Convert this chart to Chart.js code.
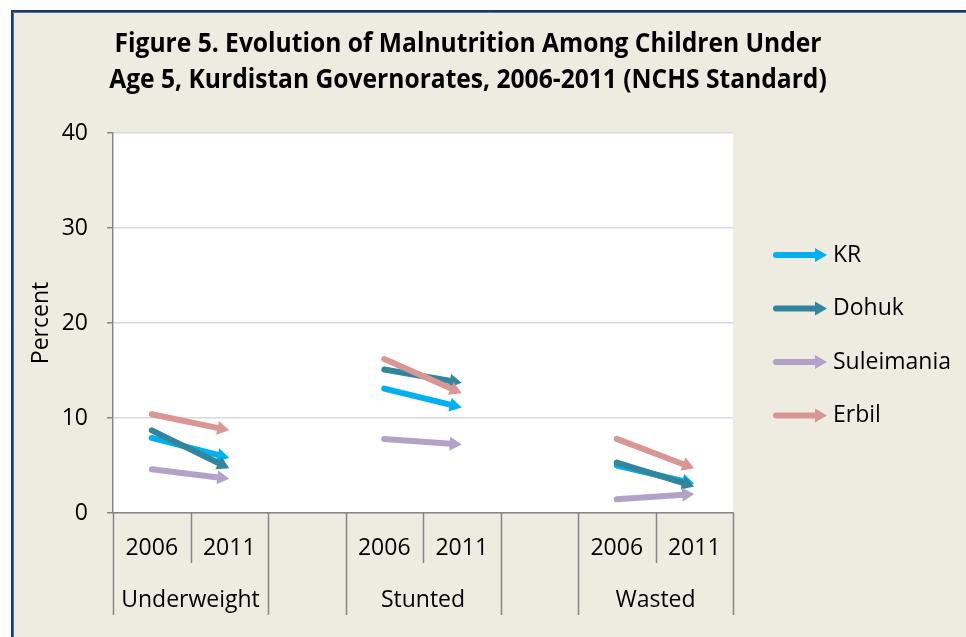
<!DOCTYPE html>
<html>
<head>
<meta charset="utf-8">
<script src="https://cdn.jsdelivr.net/npm/chart.js@4.4.0/dist/chart.umd.min.js"></script>
<style>
  html, body { margin: 0; padding: 0; background: #fff; }
  canvas { display: block; }
</style>
</head>
<body>
<canvas id="chart" width="966" height="637"></canvas>
<script>
// --- data ---
const titleLines = [
  'Figure 5. Evolution of Malnutrition Among Children Under',
  'Age 5, Kurdistan Governorates, 2006-2011 (NCHS Standard)',
];
const yearLabels = ['2006', '2011', '', '2006', '2011', '', '2006', '2011'];
const groupNames = ['Underweight', 'Stunted', 'Wasted'];
const groupStarts = [0, 3, 6];
const seriesNames = ['KR', 'Dohuk', 'Suleimania', 'Erbil'];
const seriesColors = ['#00B0F0', '#31859C', '#B3A2C7', '#D99694'];
const krValues = [7.9, 5.8, null, 13.1, 11.1, null, 5.0, 3.1];
const dohukValues = [8.7, 4.7, null, 15.1, 13.7, null, 5.3, 2.8];
const suleimaniaValues = [4.6, 3.6, null, 7.8, 7.2, null, 1.45, 2.0];
const erbilValues = [10.4, 8.7, null, 16.2, 12.6, null, 7.8, 4.7];
const yMin = 0, yMax = 40, yStep = 10;

const FONT = '"Open Sans", "Noto Sans", sans-serif';
const BEIGE = '#EEECE1';
const AXIS_GRAY = '#868686';

/** Draw a thick line ending in a filled triangular head at (x1, y1). */
function drawArrow(ctx, x0, y0, x1, y1, color) {
  const width = 6, headLen = 12, headHalf = 7;
  const len = Math.hypot(x1 - x0, y1 - y0);
  const ux = (x1 - x0) / len, uy = (y1 - y0) / len;
  const bx = x1 - ux * headLen, by = y1 - uy * headLen;
  ctx.save();
  ctx.strokeStyle = color;
  ctx.fillStyle = color;
  ctx.lineWidth = width;
  ctx.lineCap = 'round';
  ctx.beginPath();
  ctx.moveTo(x0, y0);
  ctx.lineTo(bx + ux, by + uy);
  ctx.stroke();
  ctx.beginPath();
  ctx.moveTo(x1, y1);
  ctx.lineTo(bx - uy * headHalf, by + ux * headHalf);
  ctx.lineTo(bx + uy * headHalf, by - ux * headHalf);
  ctx.closePath();
  ctx.fill();
  ctx.restore();
}

const backgroundPlugin = {
  id: 'background',
  beforeDraw(chart) {
    const { ctx, width, height, chartArea } = chart;
    ctx.save();
    ctx.fillStyle = '#fff';
    ctx.fillRect(0, 0, width, height);
    ctx.fillStyle = BEIGE;
    ctx.fillRect(11, 10, width - 11, height - 10);
    // frame (only top and left edges are visible in the picture)
    ctx.strokeStyle = '#1F3864';
    ctx.lineWidth = 2;
    ctx.beginPath();
    ctx.moveTo(width, 11);
    ctx.lineTo(12, 11);
    ctx.lineTo(12, height);
    ctx.stroke();
    ctx.strokeStyle = '#4F6FA8';
    ctx.lineWidth = 1;
    ctx.beginPath();
    ctx.moveTo(width, 12.5);
    ctx.lineTo(13.5, 12.5);
    ctx.lineTo(13.5, height);
    ctx.stroke();
    ctx.fillStyle = '#fff';
    ctx.fillRect(chartArea.left, chartArea.top, chartArea.width, chartArea.height);
    ctx.restore();
  },
};

const arrowPlugin = {
  id: 'arrows',
  afterDatasetsDraw(chart) {
    chart.data.datasets.forEach((ds, i) => {
      const pts = chart.getDatasetMeta(i).data;
      for (let j = 0; j < ds.data.length - 1; j++) {
        if (ds.data[j] == null || ds.data[j + 1] == null) continue;
        drawArrow(chart.ctx, pts[j].x, pts[j].y, pts[j + 1].x, pts[j + 1].y, ds.borderColor);
      }
    });
  },
};

const decorPlugin = {
  id: 'decor',
  afterDraw(chart) {
    const { ctx, chartArea } = chart;
    const x = chart.scales.x;
    const n = yearLabels.length;
    const edge = i => (i === 0 ? chartArea.left : i === n ? chartArea.right
      : (x.getPixelForValue(i - 1) + x.getPixelForValue(i)) / 2);

    // category dividers: short inside a group, long between groups
    ctx.save();
    ctx.strokeStyle = AXIS_GRAY;
    ctx.lineWidth = 1.5;
    for (let i = 0; i <= n; i++) {
      const inside = groupStarts.includes(i - 1);
      const px = Math.round(edge(i)) + 0.5;
      ctx.beginPath();
      ctx.moveTo(px, chartArea.bottom);
      ctx.lineTo(px, inside ? 563 : 615);
      ctx.stroke();
    }

    // group labels
    ctx.fillStyle = '#000';
    ctx.font = '23px ' + FONT;
    ctx.textAlign = 'center';
    ctx.textBaseline = 'middle';
    groupNames.forEach((name, g) => {
      const s = groupStarts[g];
      const cx = (x.getPixelForValue(s) + x.getPixelForValue(s + 1)) / 2;
      ctx.fillText(name, cx, 600);
    });

    // title (condensed to mimic the original narrow face)
    ctx.font = 'bold 26px ' + FONT;
    const sx = 707 / ctx.measureText(titleLines[0]).width;
    titleLines.forEach((line, i) => {
      ctx.save();
      ctx.translate(468, 52 + i * 36);
      ctx.scale(sx, 1);
      ctx.textBaseline = 'alphabetic';
      ctx.fillText(line, 0, 0);
      ctx.restore();
    });

    // legend
    ctx.font = '23px ' + FONT;
    ctx.textAlign = 'left';
    seriesNames.forEach((name, i) => {
      const cy = 255 + i * 53.5;
      drawArrow(ctx, 776, cy, 827, cy, seriesColors[i]);
      ctx.fillStyle = '#000';
      ctx.fillText(name, 833, cy);
    });
    ctx.restore();
  },
};

const valueSets = [krValues, dohukValues, suleimaniaValues, erbilValues];

new Chart(document.getElementById('chart'), {
  type: 'line',
  data: {
    labels: yearLabels,
    datasets: seriesNames.map((name, i) => ({
      label: name,
      data: valueSets[i],
      borderColor: seriesColors[i],
      backgroundColor: seriesColors[i],
      showLine: false,
      pointRadius: 0,
      spanGaps: false,
    })),
  },
  options: {
    responsive: false,
    animation: false,
    events: [],
    layout: { padding: { left: 0, top: 133, right: 233, bottom: 0 } },
    plugins: { legend: { display: false }, tooltip: { enabled: false } },
    scales: {
      x: {
        offset: true,
        grid: { display: false, drawTicks: false },
        border: { display: true, color: AXIS_GRAY, width: 1.5 },
        ticks: {
          autoSkip: false, maxRotation: 0, padding: 22,
          color: '#000', font: { family: FONT, size: 23 },
        },
        afterFit: scale => { scale.height = 124; },
      },
      y: {
        min: yMin, max: yMax,
        grid: { color: '#D9D9D9', lineWidth: 1.5, tickColor: AXIS_GRAY, tickLength: 6 },
        border: { display: true, color: AXIS_GRAY, width: 1.5 },
        ticks: { stepSize: yStep, padding: 19, color: '#000', font: { family: FONT, size: 23 } },
        title: {
          display: true, text: 'Percent', color: '#000',
          font: { family: FONT, size: 23 }, padding: { top: 28, bottom: 0 },
        },
        afterFit: scale => { scale.width = 113; },
      },
    },
  },
  plugins: [backgroundPlugin, arrowPlugin, decorPlugin],
});
</script>
</body>
</html>
